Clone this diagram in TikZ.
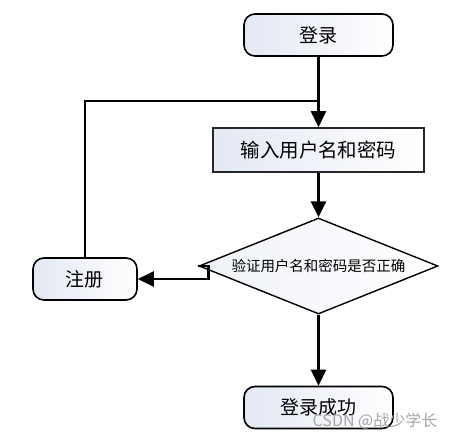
\documentclass[tikz,border=0pt]{standalone}
\usepackage{fontspec}
\setmainfont{Noto Sans CJK SC}
\usetikzlibrary{arrows.meta,shapes.geometric}
\definecolor{fillc}{HTML}{E3E8F3}
\begin{document}
\begin{tikzpicture}[x=1pt,y=-1pt,
  terminal/.style={draw=black, line width=1.6pt, rounded corners=11pt, minimum width=149pt, minimum height=42pt, left color=fillc, right color=white, font=\fontsize{19}{20}\selectfont, inner sep=0pt},
  process/.style={draw=black!85, line width=1.6pt, minimum width=211pt, minimum height=44pt, left color=fillc, right color=white, font=\fontsize{19.5}{20}\selectfont, inner sep=0pt},
  decision/.style={draw=black, line width=1.4pt, diamond, aspect=2.5, inner sep=0pt, minimum width=239pt, minimum height=96pt, left color=fillc!60!white, right color=white, font=\fontsize{14.5}{15}\selectfont},
  conn/.style={line width=2.6pt, -{Triangle[width=15pt,length=16pt]}},
  plain/.style={line width=2.6pt}]
\useasboundingbox (0,0) rectangle (459,440);
\node[terminal] (login) at (318.5,35) {登录};
\node[process] (input) at (318.5,150) {输入用户名和密码};
\node[decision] (check) at (318.5,266) {验证用户名和密码是否正确};
\node[terminal, minimum width=104pt] (reg) at (85,279) {注册};
\node[terminal] (ok) at (318.5,407.5) {登录成功};
\coordinate (join) at (318.5,101);
\draw[conn] (login.south) -- (input.north);
\draw[plain] (reg.north) |- (join);
\draw[conn] (input.south) -- (check.north);
\draw[conn] (check.west) -- ++(10,0) |- (reg.east);
\draw[conn] (check.south) -- (ok.north);
\node[text=black!35, font=\fontsize{16}{16}\selectfont, inner sep=0pt] (wm) at (375,421) {CSDN @战少学长};
\end{tikzpicture}
\end{document}
